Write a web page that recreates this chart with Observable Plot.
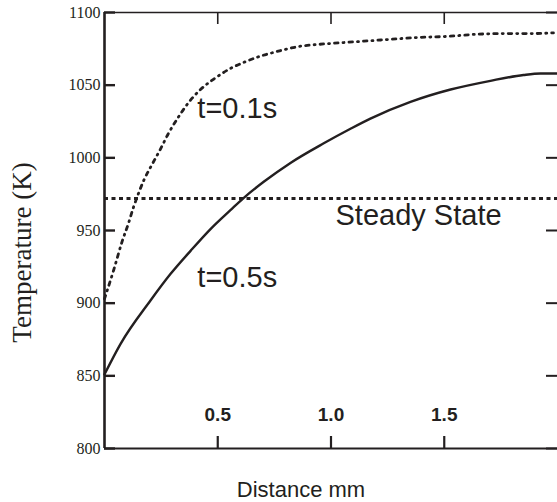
<!DOCTYPE html>
<html>
<head>
<meta charset="utf-8">
<script src="https://cdn.jsdelivr.net/npm/d3@7"></script>
<script src="https://cdn.jsdelivr.net/npm/@observablehq/plot@0.6"></script>
<style>
  html, body { margin: 0; padding: 0; background: white; }
</style>
</head>
<body>
<div id="chart"></div>
<script>
// Tick values
const xTicks = [0.5, 1.0, 1.5];
const yTicks = [800, 850, 900, 950, 1000, 1050, 1100];

// t = 0.1 s curve (distance mm, temperature K)
const dist01 = [0, 0.040, 0.079, 0.106, 0.128, 0.150, 0.172, 0.212, 0.247, 0.283, 0.322, 0.371, 0.424, 0.490, 0.556, 0.614, 0.689, 0.746, 0.808, 0.874, 0.940, 0.998, 1.121, 1.249, 1.382, 1.506, 1.630, 1.757, 1.890, 1.982];
const temp01 = [903, 922.5, 943, 955, 966, 975.5, 984, 996, 1006, 1017, 1027, 1038, 1047, 1055, 1061.5, 1065.6, 1070, 1072.5, 1075, 1077, 1078, 1078.7, 1080, 1081.4, 1082.8, 1083.5, 1084.9, 1085.5, 1085.5, 1086];

// t = 0.5 s curve
const dist05 = [0, 0.071, 0.203, 0.291, 0.380, 0.468, 0.556, 0.615, 0.703, 0.821, 0.968, 1.086, 1.174, 1.351, 1.528, 1.704, 1.850, 1.925, 2.0];
const temp05 = [851, 872, 901.8, 920, 936, 951, 964, 972.5, 983.5, 996.5, 1010, 1020, 1027, 1038.5, 1047, 1053, 1057, 1058, 1058];

// Steady state temperature
const steadyState = [972];

// Annotation labels
const labelText = ["t=0.1s", "t=0.5s", "Steady State"];
const labelX = [0.41, 0.41, 1.02];
const labelY = [1034, 917.5, 960];

const series01 = dist01.map((d, i) => ({x: d, y: temp01[i]}));
const series05 = dist05.map((d, i) => ({x: d, y: temp05[i]}));
const labels = labelText.map((t, i) => ({text: t, x: labelX[i], y: labelY[i]}));

const serif = "'Liberation Serif', 'Times New Roman', serif";
const sans = "'Liberation Sans', Arial, sans-serif";
const ink = "#231f20";

// frame geometry (pixels)
const W = 557, H = 502, mL = 104, mR = 0, mT = 12, mB = 54;
const plotW = W - mL - mR, plotH = H - mT - mB;
const tickLenY = 11, tickLenX = 12;

const chart = Plot.plot({
  width: W,
  height: H,
  marginLeft: mL,
  marginRight: mR,
  marginTop: mT,
  marginBottom: mB,
  x: {domain: [0, 2]},
  y: {domain: [800, 1100]},
  style: {background: "white", color: ink, fontFamily: sans},
  marks: [
    // frame lines
    Plot.ruleY([800], {stroke: ink, strokeWidth: 2}),
    Plot.ruleY([1100], {stroke: ink, strokeWidth: 1.5}),
    Plot.ruleX([0], {stroke: ink, strokeWidth: 2.6}),
    // inward ticks
    Plot.tickY(yTicks, {y: d => d, insetRight: plotW - tickLenY, stroke: ink, strokeWidth: 2.4}),
    Plot.tickY(yTicks, {y: d => d, insetLeft: plotW - tickLenY, stroke: ink, strokeWidth: 2}),
    Plot.tickX(xTicks, {x: d => d, insetTop: plotH - tickLenX, stroke: ink, strokeWidth: 2.2}),
    Plot.tickX(xTicks, {x: d => d, insetBottom: plotH - tickLenX, stroke: ink, strokeWidth: 1.6}),
    // y tick labels
    Plot.axisY({ticks: yTicks, tickSize: 0, tickPadding: 4, tickFormat: d => String(d), fontFamily: serif, fontSize: 16, label: null}),
    // x tick labels inside plot
    Plot.axisX({ticks: xTicks, tickSize: 0, tickPadding: -41, tickFormat: d3.format(".1f"), fontWeight: "bold", fontSize: 19, fontFamily: sans, label: null}),
    // steady state
    Plot.ruleY(steadyState, {stroke: ink, strokeWidth: 3, strokeDasharray: "4,3.5"}),
    // curves
    Plot.line(series01, {x: "x", y: "y", stroke: ink, strokeWidth: 2.8, strokeDasharray: "3.5,5,1,5", curve: "monotone-x"}),
    Plot.line(series05, {x: "x", y: "y", stroke: ink, strokeWidth: 2.4, curve: "monotone-x"}),
    // annotations
    Plot.text(labels, {x: "x", y: "y", text: "text", textAnchor: "start", fontSize: 29, fontFamily: sans, fill: ink}),
    // axis titles
    Plot.text(["Temperature (K)"], {frameAnchor: "left", textAnchor: "middle", lineAnchor: "middle", rotate: -90, dx: -82, dy: 22, fontFamily: serif, fontSize: 27, fill: ink}),
    Plot.text(["Distance mm"], {frameAnchor: "bottom", textAnchor: "middle", lineAnchor: "middle", dx: -30, dy: 41, fontFamily: sans, fontSize: 22, fill: ink})
  ]
});

document.getElementById("chart").appendChild(chart);
</script>
</body>
</html>
